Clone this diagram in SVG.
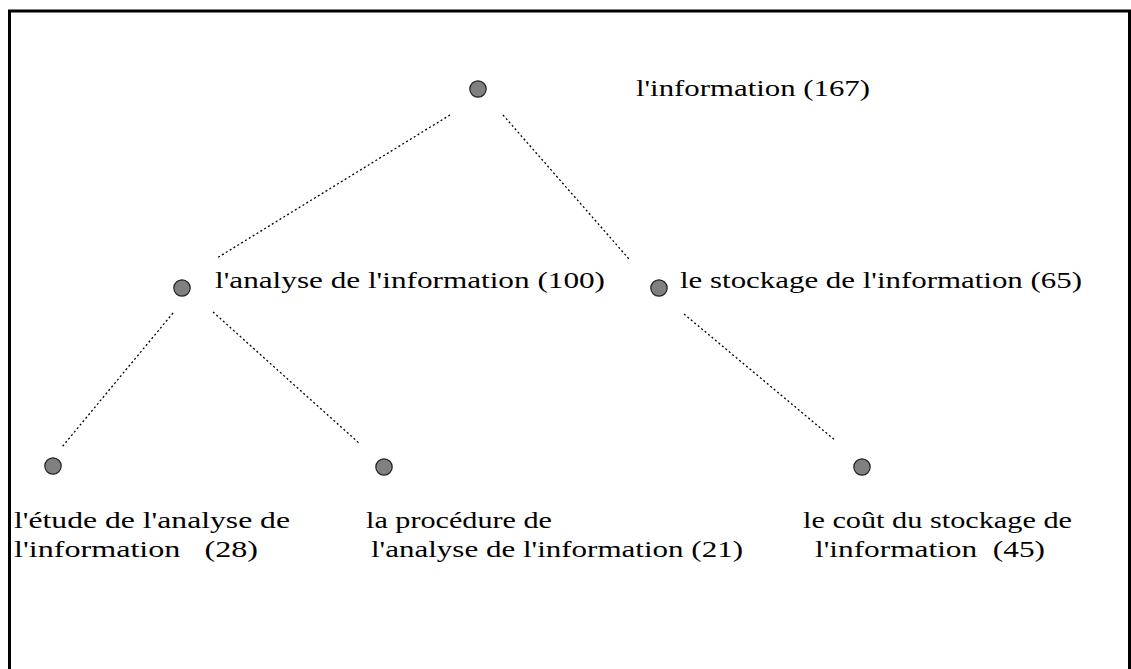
<svg xmlns="http://www.w3.org/2000/svg" width="1131" height="669" viewBox="0 0 1131 669">
<style>
.t{font-family:"Liberation Serif","Times New Roman",serif;font-size:24px;fill:#000;white-space:pre}
.n{fill:#808080;stroke:#222;stroke-width:1.2}
.c line{stroke:#000;stroke-width:1.3;stroke-dasharray:2 2.5}
</style>
<rect x="0" y="0" width="1131" height="669" fill="#fff"/>
<rect x="9.5" y="11" width="1120" height="700" fill="none" stroke="#000" stroke-width="3"/>
<g id="connectors" class="c">
<line x1="450" y1="115" x2="217" y2="258"/>
<line x1="503" y1="115" x2="629" y2="259"/>
<line x1="173" y1="313" x2="62" y2="447"/>
<line x1="213" y1="312" x2="360" y2="444"/>
<line x1="684" y1="314" x2="836" y2="441"/>
</g>
<g id="n-root">
<circle class="n" cx="478" cy="89" r="8.2"/>
<text class="t" x="636" y="96" textLength="234" lengthAdjust="spacingAndGlyphs">l'information (167)</text>
</g>
<g id="n-analyse">
<circle class="n" cx="182" cy="288" r="8.2"/>
<text class="t" x="215" y="288" textLength="390" lengthAdjust="spacingAndGlyphs">l'analyse de l'information (100)</text>
</g>
<g id="n-stockage">
<circle class="n" cx="659" cy="288" r="8.2"/>
<text class="t" x="680" y="288" textLength="402" lengthAdjust="spacingAndGlyphs">le stockage de l'information (65)</text>
</g>
<g id="n-etude">
<circle class="n" cx="53" cy="466" r="8.2"/>
<text class="t" x="14" y="528" textLength="276" lengthAdjust="spacingAndGlyphs">l'étude de l'analyse de</text>
<text class="t" x="14" y="557" textLength="244" lengthAdjust="spacingAndGlyphs" xml:space="preserve">l'information   (28)</text>
</g>
<g id="n-procedure">
<circle class="n" cx="384" cy="467" r="8.2"/>
<text class="t" x="366" y="528" textLength="186" lengthAdjust="spacingAndGlyphs">la procédure de</text>
<text class="t" x="371" y="557" textLength="372" lengthAdjust="spacingAndGlyphs">l'analyse de l'information (21)</text>
</g>
<g id="n-cout">
<circle class="n" cx="862" cy="467" r="8.2"/>
<text class="t" x="803" y="528" textLength="269" lengthAdjust="spacingAndGlyphs">le coût du stockage de</text>
<text class="t" x="815" y="557" textLength="230" lengthAdjust="spacingAndGlyphs" xml:space="preserve">l'information  (45)</text>
</g>
</svg>
